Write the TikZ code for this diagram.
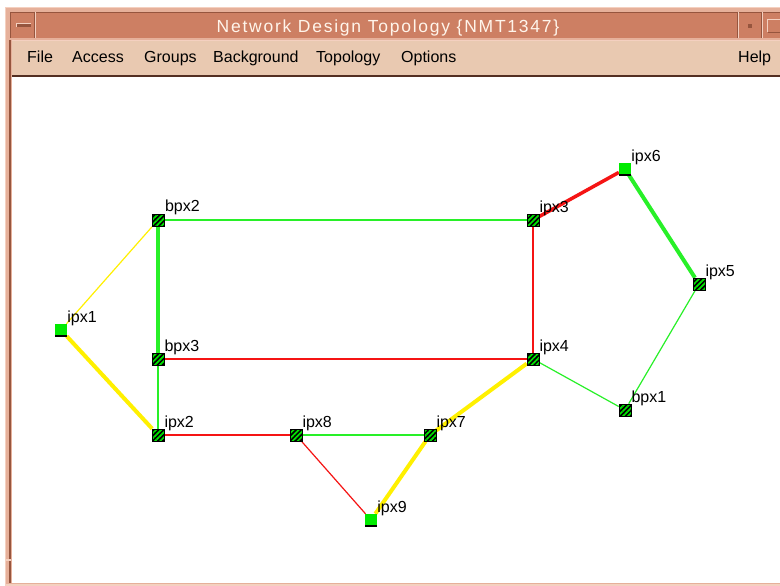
\documentclass[tikz,border=0pt]{standalone}
\usepackage{fontspec}
\setmainfont{Liberation Sans}
\newfontfamily\titlefont[LetterSpace=10]{Liberation Sans}
\usetikzlibrary{patterns.meta}

\definecolor{titlebar}{RGB}{205,127,99}
\definecolor{menubar}{RGB}{233,201,177}
\definecolor{winframe}{RGB}{230,176,154}
\definecolor{framedark}{RGB}{150,85,62}
\definecolor{framelight}{RGB}{244,208,192}
\definecolor{linkgreen}{RGB}{40,240,40}
\definecolor{linkred}{RGB}{245,20,20}
\definecolor{linkyellow}{RGB}{255,240,0}
\definecolor{sitegreen}{RGB}{0,235,0}

\pgfdeclarelayer{chrome}
\pgfdeclarelayer{links}
\pgfsetlayers{chrome,links,main}

\begin{document}
\begin{tikzpicture}[
  x=1pt, y=-1pt,
  hub/.style={rectangle, minimum size=12pt, inner sep=0pt, draw=black, line width=0.6pt,
    preaction={fill=black}, pattern={Lines[angle=45,distance=3.6pt,line width=1.7pt]},
    pattern color=green!90!black, label={[lbl]north east:#1}},
  site/.style={rectangle, minimum size=12pt, inner sep=0pt, fill=sitegreen,
    path picture={\draw[black, line width=1.6pt] (path picture bounding box.south west) -- (path picture bounding box.south east);},
    label={[lbl]north east:#1}},
  lbl/.style={font=\fontsize{16}{19}\selectfont, inner sep=0pt, yshift=-2pt},
  menu/.style={font=\fontsize{16}{19}\selectfont, anchor=base west, inner sep=0pt},
  lnk/.style={line width=1.2pt},
  fat/.style={line width=4pt}
]
\useasboundingbox (0,0) rectangle (780,586);

% window
\begin{pgfonlayer}{chrome}
\fill[white] (0,0) rectangle (780,586);
\fill[winframe] (5,7) rectangle (780,586);
\draw[framelight, line width=1pt] (5.5,586) -- (5.5,7.5) -- (780,7.5);
\fill[titlebar] (10,12) rectangle (780,38);
\draw[framedark, line width=1pt] (10.5,38) -- (10.5,12.5) -- (780,12.5);
\draw[framelight, line width=1pt] (35.5,12) -- (35.5,38);
\draw[framedark, line width=1pt] (34.5,12) -- (34.5,38);
\fill[framedark] (16,23) rectangle (31,27);
\draw[framelight, line width=0.8pt] (16,27) -- (16,23) -- (31,23);
\draw[framelight, line width=1pt] (738.5,12) -- (738.5,38);
\draw[framedark, line width=1pt] (737.5,12) -- (737.5,38);
\draw[framelight, line width=1pt] (762.5,12) -- (762.5,38);
\draw[framedark, line width=1pt] (761.5,12) -- (761.5,38);
\fill[framedark] (748,24) rectangle (752,28);
\draw[framelight, line width=1pt] (780,19.5) -- (767.5,19.5) -- (767.5,32);
\draw[framedark, line width=1pt] (767.5,32.5) -- (780,32.5);
\fill[menubar] (12,40) rectangle (780,75);
\draw[framelight, line width=1pt] (12,40.5) -- (780,40.5);
\fill[black!45!framedark] (12,75) rectangle (780,77);
\fill[white] (12,77) rectangle (780,583);
\fill[framedark] (9,40) rectangle (11,583);
\draw[framelight, line width=1.5pt] (5,560) -- (11,560);
\fill[framelight] (5,584) rectangle (780,586);
\end{pgfonlayer}

\node[font=\titlefont\fontsize{17.5}{20}\selectfont, text=white!92!orange, anchor=base, inner sep=0pt]
  (title) at (388,33) {Network Design Topology \{NMT1347\}};

\node[menu] (file) at (27,63) {File};
\node[menu] (access) at (72,63) {Access};
\node[menu] (groups) at (144,63) {Groups};
\node[menu] (background) at (213,63) {Background};
\node[menu] (topology) at (316,63) {Topology};
\node[menu] (options) at (401,63) {Options};
\node[menu] (help) at (738,63) {Help};

% switches
\node[hub=bpx2] (bpx2) at (158,220) {};
\node[hub=bpx3] (bpx3) at (158,359) {};
\node[hub=ipx2] (ipx2) at (158,435) {};
\node[site=ipx1] (ipx1) at (61,330) {};
\node[hub=ipx8] (ipx8) at (296,435) {};
\node[hub=ipx7] (ipx7) at (430,435) {};
\node[site=ipx9] (ipx9) at (371,520) {};
\node[hub=ipx4] (ipx4) at (533,359) {};
\node[hub=ipx3] (ipx3) at (533,220) {};
\node[site=ipx6] (ipx6) at (625,169) {};
\node[hub=ipx5] (ipx5) at (699,284) {};
\node[hub=bpx1] (bpx1) at (625,410) {};

% trunks
\begin{pgfonlayer}{links}
\draw[lnk, linkgreen] (bpx2) -- (ipx3);
\draw[fat, linkgreen] (bpx2) -- (bpx3);
\draw[lnk, linkyellow] (bpx2) -- (ipx1);
\draw[fat, linkyellow] (ipx1) -- (ipx2);
\draw[lnk, linkred] (bpx3) -- (ipx4);
\draw[lnk, linkgreen] (bpx3) -- (ipx2);
\draw[lnk, linkred] (ipx2) -- (ipx8);
\draw[lnk, linkgreen] (ipx8) -- (ipx7);
\draw[lnk, linkred] (ipx8) -- (ipx9);
\draw[fat, linkyellow] (ipx9) -- (ipx7);
\draw[fat, linkyellow] (ipx7) -- (ipx4);
\draw[lnk, linkred] (ipx3) -- (ipx4);
\draw[line width=3.5pt, linkred] (ipx3) -- (ipx6);
\draw[fat, linkgreen] (ipx6) -- (ipx5);
\draw[lnk, linkgreen] (ipx5) -- (bpx1);
\draw[lnk, linkgreen] (ipx4) -- (bpx1);
\end{pgfonlayer}
\end{tikzpicture}
\end{document}
